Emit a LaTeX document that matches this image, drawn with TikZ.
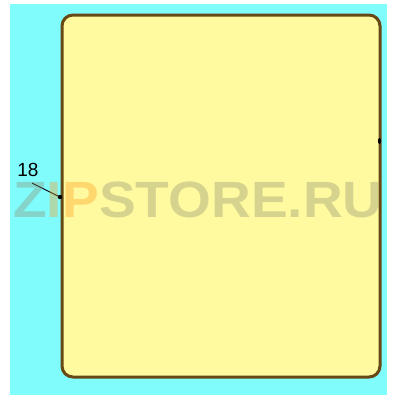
\documentclass[tikz,border=0pt]{standalone}
\usepackage{fontspec}
\setmainfont{Liberation Sans}
\begin{document}
\begin{tikzpicture}[x=1pt,y=-1pt,
  panel/.style={draw=border,line width=3pt,fill=panelfill,rounded corners=11pt},
  leader/.style={draw=black,line width=0.9pt},
  callout/.style={font=\fontsize{19}{19}\selectfont,inner sep=0pt,text=black},
  wm/.style={font=\fontsize{51}{51}\selectfont\bfseries,inner sep=0pt,opacity=0.35}]
\definecolor{bgcyan}{RGB}{128,252,252}
\definecolor{panelfill}{RGB}{255,250,160}
\definecolor{border}{RGB}{104,72,20}
\definecolor{wmgrey}{RGB}{140,140,110}
\definecolor{wmorange}{RGB}{255,150,20}
\useasboundingbox (0,0) rectangle (400,400);
\fill[white] (0,0) rectangle (400,400);
\fill[bgcyan] (9.5,4) rectangle (387,395);
\path[panel] (62,15) rectangle (380,377);
\node[callout] (n18) at (28,169.5) {18};
\coordinate (p18) at (60,197);
\draw[leader] (32,183) -- (p18);
\fill[black] (p18) circle (2.2pt);
\fill[black] (379.5,141) ellipse (1.6pt and 3pt);
\node[wm,xscale=1.08] (wm) at (198,199.5) {\textcolor{wmgrey}{Z}\textcolor{wmorange}{IP}\textcolor{wmgrey}{STORE.RU}};
\end{tikzpicture}
\end{document}
